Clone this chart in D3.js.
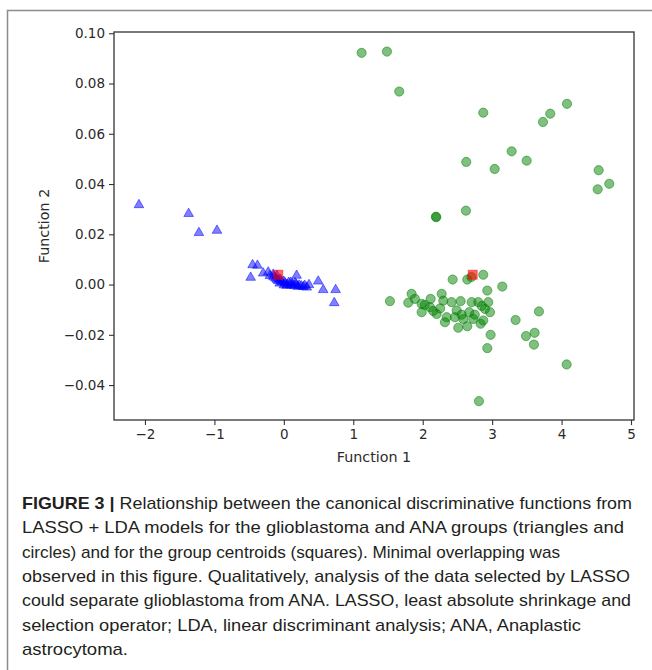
<!DOCTYPE html>
<html>
<head>
<meta charset="utf-8">
<script src="https://cdn.jsdelivr.net/npm/d3@7"></script>
<style>
  html, body { margin: 0; padding: 0; background: #fff; }
  svg { display: block; }
</style>
</head>
<body>
<svg id="chart" width="652" height="670"></svg>
<script>
// ---------- data ----------
const xTicks = [-2, -1, 0, 1, 2, 3, 4, 5];
const yTicks = [-0.04, -0.02, 0.00, 0.02, 0.04, 0.06, 0.08, 0.10];

// Glioblastoma group (triangles)
const glioX = [-2.087, -1.371, -1.223, -0.963, -0.45, -0.38, -0.478, -0.297, -0.225, -0.153, -0.10,
  0.184, 0.362, 0.495, 0.567, 0.746, 0.726,
  -0.20, -0.15, -0.12, -0.10, -0.08, -0.05, -0.03, 0.00, 0.02, 0.05, 0.07, 0.10, 0.12, 0.15,
  0.18, 0.20, 0.22, 0.25, 0.28, 0.30, 0.04, -0.06, 0.10, 0.16, 0.33, 0.00];
const glioY = [0.0317, 0.0282, 0.0206, 0.0215, 0.0078, 0.0076, 0.0028, 0.0045, 0.0049, 0.0040, 0.0035,
  0.0036, -0.0001, 0.0013, -0.0021, -0.0021, -0.0073,
  0.0035, 0.0030, 0.0025, 0.0020, 0.0015, 0.0020, 0.0010, 0.0012, 0.0005, 0.0000, 0.0008, -0.0003, 0.0002, -0.0005,
  0.0000, -0.0008, -0.0003, -0.0006, -0.0009, -0.0004, -0.0004, 0.0005, 0.0008, 0.0006, -0.0011, -0.0002];

// ANA group (circles)
const anaX = [1.12, 1.485, 1.662, 2.872, 3.732, 3.837, 4.078, 3.281, 2.627, 3.036, 3.497, 4.534, 4.687, 4.520,
  2.623, 2.19, 2.195, 2.872, 2.642, 2.70, 2.431, 3.146, 2.93, 1.528, 1.792, 1.84, 1.888, 1.985, 2.03,
  1.985, 2.114, 2.104, 2.2, 2.273, 2.296, 2.345, 2.32, 2.416, 2.489, 2.464, 2.546, 2.512, 2.584, 2.642,
  2.67, 2.705, 2.728, 2.8, 2.834, 2.872, 2.897, 2.944, 2.969, 2.978, 2.93, 3.338, 3.674, 3.612, 3.487,
  3.602, 4.073, 2.81, 2.25, 2.56, 2.75, 2.15, 2.85];
const anaY = [0.0922, 0.0927, 0.0768, 0.0684, 0.0647, 0.0680, 0.0719, 0.0530, 0.0488, 0.0460, 0.0493, 0.0455, 0.0401, 0.0379,
  0.0294, 0.0270, 0.0268, 0.0039, 0.0020, 0.0030, 0.0020, -0.0008, -0.0024, -0.0066, -0.0072, -0.0037, -0.0057, -0.0077, -0.0081,
  -0.0110, -0.0057, -0.0090, -0.0117, -0.0037, -0.0064, -0.0130, -0.0150, -0.0070, -0.0103, -0.0130, -0.0066, -0.0172, -0.0137, -0.0166,
  -0.0110, -0.0070, -0.0137, -0.0070, -0.0156, -0.0143, -0.0097, -0.0070, -0.0110, -0.0200, -0.0253, -0.0141, -0.0107, -0.0192, -0.0205,
  -0.0239, -0.0318, -0.0464, -0.0095, -0.0120, -0.0120, -0.0105, -0.0085];

// Group centroids (squares)
const centX = [-0.08, 2.72];
const centY = [0.0039, 0.0039];

const xLabel = "Function 1";
const yLabel = "Function 2";
const captionBold = "FIGURE 3 |";
const captionLines = [
  " Relationship between the canonical discriminative functions from",
  "LASSO + LDA models for the glioblastoma and ANA groups (triangles and",
  "circles) and for the group centroids (squares). Minimal overlapping was",
  "observed in this figure. Qualitatively, analysis of the data selected by LASSO",
  "could separate glioblastoma from ANA. LASSO, least absolute shrinkage and",
  "selection operator; LDA, linear discriminant analysis; ANA, Anaplastic",
  "astrocytoma."
];
// right edge of each caption line as set in the figure
const captionLineEnds = [632, 624, 560, 630, 631, 581, 128];

// ---------- layout ----------
const svg = d3.select("#chart");
const plot = { left: 114, right: 634, top: 32, bottom: 420 };

const x = d3.scaleLinear().domain([-2.446, 5.043]).range([plot.left, plot.right]);
const y = d3.scaleLinear().domain([-0.0539, 0.1005]).range([plot.bottom, plot.top]);

// outer figure border (open to right/bottom, cropped)
svg.append("path")
  .attr("d", `M7.5,672 L7.5,10.5 L660,10.5`)
  .attr("fill", "none")
  .attr("stroke", "#8c8c8c")
  .attr("stroke-width", 1.5);

const tickFont = "'DejaVu Sans', sans-serif";
const fmtY = d3.format(".2f");

const gx = svg.append("g")
  .attr("transform", `translate(0,${plot.bottom})`)
  .call(d3.axisBottom(x).tickValues(xTicks).tickFormat(d => d3.format("d")(d)).tickSize(5).tickPadding(4));
const gy = svg.append("g")
  .attr("transform", `translate(${plot.left},0)`)
  .call(d3.axisLeft(y).tickValues(yTicks).tickFormat(d => fmtY(d)).tickSize(5).tickPadding(4));

[gx, gy].forEach(g => {
  g.select(".domain").remove();
  g.selectAll(".tick line").attr("stroke", "#333").attr("stroke-width", 1.1);
  g.selectAll(".tick text")
    .attr("fill", "#2a2a2a")
    .style("font-family", tickFont)
    .style("font-size", "13.5px");
});

// markers
const triangle = d3.symbol().type(d3.symbolTriangle).size(40);
const glio = glioX.map((v, i) => ({ x: v, y: glioY[i] }));
const ana = anaX.map((v, i) => ({ x: v, y: anaY[i] }));
const cents = centX.map((v, i) => ({ x: v, y: centY[i] }));

svg.append("g").selectAll("circle").data(ana).join("circle")
  .attr("cx", d => x(d.x)).attr("cy", d => y(d.y)).attr("r", 4.6)
  .attr("fill", "green").attr("fill-opacity", 0.5)
  .attr("stroke", "green").attr("stroke-opacity", 0.5).attr("stroke-width", 1);

svg.append("g").selectAll("path").data(glio).join("path")
  .attr("d", triangle)
  .attr("transform", d => `translate(${x(d.x)},${y(d.y)})`)
  .attr("fill", "blue").attr("fill-opacity", 0.5)
  .attr("stroke", "blue").attr("stroke-opacity", 0.5).attr("stroke-width", 1);

svg.append("g").selectAll("rect").data(cents).join("rect")
  .attr("x", d => x(d.x) - 4.5).attr("y", d => y(d.y) - 4.5)
  .attr("width", 9).attr("height", 9)
  .attr("fill", "red").attr("fill-opacity", 0.6)
  .attr("stroke", "red").attr("stroke-opacity", 0.5).attr("stroke-width", 1);

// frame
svg.append("rect")
  .attr("x", plot.left).attr("y", plot.top)
  .attr("width", plot.right - plot.left).attr("height", plot.bottom - plot.top)
  .attr("fill", "none").attr("stroke", "#333").attr("stroke-width", 1.3);

// axis labels
svg.append("text")
  .attr("x", 374).attr("y", 462)
  .attr("text-anchor", "middle")
  .attr("fill", "#2a2a2a")
  .style("font-family", tickFont).style("font-size", "14.3px")
  .text(xLabel);
svg.append("text")
  .attr("transform", `translate(49,${(plot.top + plot.bottom) / 2}) rotate(-90)`)
  .attr("text-anchor", "middle")
  .attr("fill", "#2a2a2a")
  .style("font-family", tickFont).style("font-size", "14.3px")
  .text(yLabel);

// caption
const capFont = "'Liberation Sans', Arial, sans-serif";
const capG = svg.append("g");
captionLines.forEach((ln, i) => {
  const t = capG.append("text")
    .attr("x", 22).attr("y", 509 + i * 24.3)
    .attr("fill", "#231f20")
    .attr("textLength", captionLineEnds[i] - 22)
    .attr("lengthAdjust", "spacingAndGlyphs")
    .style("font-family", capFont).style("font-size", "17px");
  if (i === 0) {
    t.append("tspan").attr("font-weight", "bold").text(captionBold);
  }
  t.append("tspan").text(ln);
});
</script>
</body>
</html>
